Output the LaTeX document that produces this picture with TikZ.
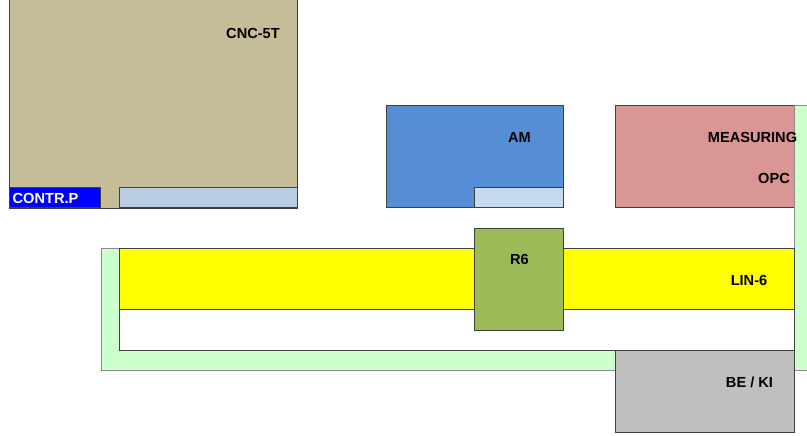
\documentclass[tikz,border=0pt]{standalone}
\usepackage{fontspec}
\setmainfont{Liberation Sans}
\usetikzlibrary{positioning}
\definecolor{cnctan}{HTML}{C4BD97}
\definecolor{panelblue}{HTML}{B9CDE5}
\definecolor{panellight}{HTML}{C6D9F1}
\definecolor{amblue}{HTML}{558ED5}
\definecolor{measred}{HTML}{D99694}
\definecolor{pathgreen}{HTML}{CCFFCC}
\definecolor{robgreen}{HTML}{9BBB59}
\definecolor{stgray}{HTML}{BFBFBF}
\definecolor{linyellow}{RGB}{255,255,0}

\begin{document}
\begin{tikzpicture}[x=1pt, y=-1pt,
      area/.style={draw=black!75, line width=0.8pt, rectangle,
                   inner sep=0pt, outer sep=0pt, anchor=north west},
      lbl/.style={font=\fontsize{14.6}{16}\selectfont\bfseries, inner sep=0pt},
      track/.style={draw=black!45, line width=0.8pt, fill=pathgreen}
    ]
    \useasboundingbox (0,0) rectangle (807,436);

    % Maschine links oben
    \node[area, fill=cnctan, minimum width=288pt, minimum height=213pt] (cnc) at (9,-5) {};
    \node[area, fill=blue, minimum width=91pt, minimum height=20pt] (contr) at (9,187) {};
    \node[area, fill=panelblue, minimum width=178pt, minimum height=20pt] (cncpanel) at (119,187) {};

    % Stationen oben
    \node[area, fill=amblue, minimum width=177pt, minimum height=102pt] (am) at (386,105) {};
    \node[area, fill=panellight, minimum width=89pt, minimum height=20pt] (ampanel) at (474,187) {};
    \node[area, fill=measred, minimum width=179pt, minimum height=102pt] (meas) at (615,105) {};

    % Transportweg
    \draw[track] (101,248) -- (119,248) -- (119,350) -- (794,350) -- (794,105)
      -- (812,105) -- (812,370) -- (101,370) -- cycle;
    \node[area, fill=white, minimum width=675pt, minimum height=41pt] (gap) at (119,309) {};
    \node[area, fill=linyellow, minimum width=675pt, minimum height=61pt] (lin) at (119,248) {};

    % Roboter und Ablage
    \node[area, fill=robgreen, minimum width=89pt, minimum height=102pt] (rob) at (474,228) {};
    \node[area, fill=stgray, minimum width=179pt, minimum height=82pt] (beki) at (615,350) {};

    % Beschriftungen
    \node[lbl] (cnclbl) at (253,33) {CNC-5T};
    \node[lbl, text=white] (contrlbl) at (45.5,198) {CONTR.P};
    \node[lbl] (amlbl) at (519.5,137) {AM};
    \node[lbl] (measlbl) at (752.5,137) {MEASURING};
    \node[lbl] (opclbl) at (774,178) {OPC};
    \node[lbl] (linlbl) at (749,280) {LIN-6};
    \node[lbl] (roblbl) at (519.5,259) {R6};
    \node[lbl] (bekilbl) at (749.5,382) {BE / KI};
  \end{tikzpicture}
\end{document}
